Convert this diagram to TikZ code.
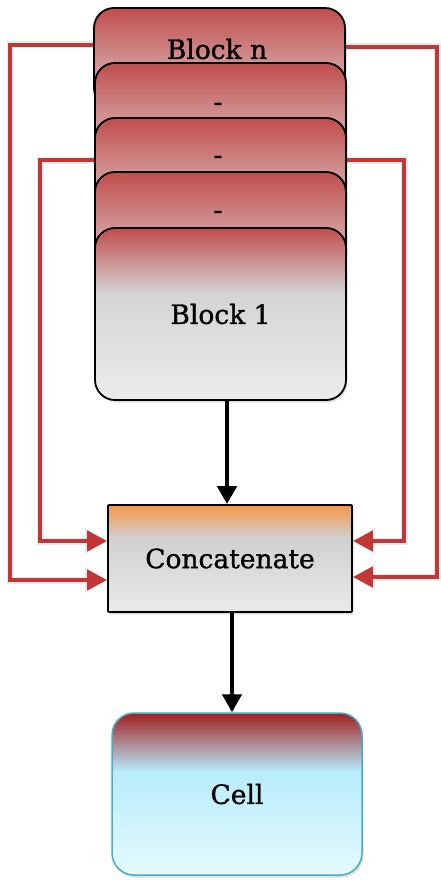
\documentclass[tikz,border=0pt]{standalone}
\usepackage{fontspec}
\setmainfont{DejaVu Serif}
\newfontfamily\labelface[FakeBold=1.2]{DejaVu Serif}
\usetikzlibrary{arrows.meta,shadows,backgrounds}

% palette
\definecolor{blkred}{RGB}{192,78,76}
\definecolor{blkpale}{RGB}{222,206,206}
\definecolor{blkgray}{RGB}{212,212,212}
\definecolor{blklight}{RGB}{236,236,236}
\definecolor{catorange}{RGB}{247,150,70}
\definecolor{catgray}{RGB}{208,208,208}
\definecolor{catlight}{RGB}{234,234,234}
\definecolor{cellred}{RGB}{160,32,32}
\definecolor{cellcyan}{RGB}{184,236,252}
\definecolor{celllight}{RGB}{228,250,255}
\definecolor{celledge}{RGB}{75,172,198}
\definecolor{wire}{RGB}{194,54,52}
\definecolor{wireglow}{RGB}{205,232,238}

% vertical fills (path box is mapped onto 25bp..75bp)
\pgfdeclareverticalshading{backblockfill}{100bp}{color(0bp)=(blkpale); color(25bp)=(blkpale); color(75bp)=(blkred); color(100bp)=(blkred)}
\pgfdeclareverticalshading{frontblockfill}{100bp}{color(0bp)=(blklight); color(25bp)=(blklight); color(56bp)=(blkgray); color(75bp)=(blkred); color(100bp)=(blkred)}
\pgfdeclareverticalshading{concatfill}{100bp}{color(0bp)=(catlight); color(25bp)=(catlight); color(60bp)=(catgray); color(75bp)=(catorange); color(100bp)=(catorange)}
\pgfdeclareverticalshading{cellfill}{100bp}{color(0bp)=(celllight); color(25bp)=(celllight); color(57bp)=(cellcyan); color(75bp)=(cellred); color(100bp)=(cellred)}

\tikzset{
  lbl/.style={font=\labelface\fontsize{26.5}{30}\selectfont, inner sep=0pt},
  softshadow/.style={drop shadow={shadow xshift=1.5pt, shadow yshift=-2.5pt, opacity=0.25}},
  blockbox/.style={draw=black, line width=1.8pt, rounded corners=20pt,
    minimum width=251pt, inner sep=0pt, softshadow, lbl},
  backblk/.style={blockbox, shading=backblockfill, minimum height=100pt},
  frontblk/.style={blockbox, shading=frontblockfill, minimum height=172pt},
  concatbox/.style={draw=black, line width=1.8pt, rounded corners=1pt,
    shading=concatfill, minimum width=244pt, minimum height=107pt, softshadow, lbl},
  cellbox/.style={draw=celledge, line width=1.5pt, rounded corners=22pt,
    shading=cellfill, minimum width=250pt, minimum height=162pt, softshadow, lbl},
  redwire/.style={draw=wire, line width=4.5pt,
    -{Triangle[length=20pt,width=20pt]},
    preaction={draw=wireglow, line width=7pt, -{Triangle[length=22pt,width=24pt]}, opacity=0.7}},
  flow/.style={draw=black, line width=4.5pt,
    -{Triangle[length=18pt,width=19pt]}}
}

\begin{document}
\begin{tikzpicture}[x=1pt,y=-1pt]
  \useasboundingbox (0,0) rectangle (441,880);

  % stacked blocks, back to front
  \node[backblk] (bn) at (219.5,58) {};
  \node[lbl] (tn) at (217,49) {Block n};
  \node[backblk] (b2) at (220.5,113) {};
  \node[lbl] (t2) at (218,107) {-};
  \node[backblk] (b3) at (220.5,168) {};
  \node[lbl] (t3) at (218,160) {-};
  \node[backblk] (b4) at (220.5,222) {};
  \node[lbl] (t4) at (218,215) {-};
  \node[frontblk] (b1) at (220.5,314) {Block 1};

  % merge and output boxes
  \node[concatbox] (cc) at (230,558.5) {Concatenate};
  \node[cellbox] (cell) at (237,794) {Cell};

  % main flow
  \draw[flow] (b1.south -| 227,0) -- (cc.north -| 227,0);
  \draw[flow] (cc.south -| 232,0) -- (cell.north -| 232,0);

  % skip connections into the merge box, kept beneath the blocks
  \begin{scope}[on background layer]
    \fill[white] (0,0) rectangle (441,880);
    \draw[redwire] (bn.west |- 0,45) -| (10,580) -- (cc.west |- 0,580);
    \draw[redwire] (b3.west |- 0,160) -| (40,541) -- (cc.west |- 0,541);
    \draw[redwire] (bn.east |- 0,47) -| (437,577) -- (cc.east |- 0,577);
    \draw[redwire] (b3.east |- 0,160) -| (404,541) -- (cc.east |- 0,541);
  \end{scope}
\end{tikzpicture}
\end{document}
